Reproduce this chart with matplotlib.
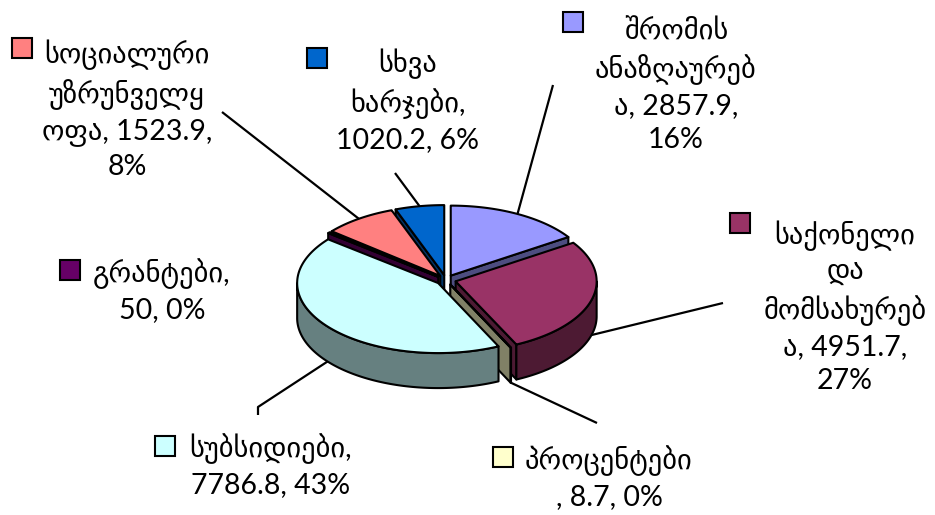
import matplotlib.pyplot as plt
import numpy as np
from matplotlib.patches import Polygon, Rectangle

# data (clockwise from 12 o'clock)
names = ['შრომის ანაზღაურება', 'საქონელი და მომსახურება', 'პროცენტები',
         'სუბსიდიები', 'გრანტები', 'სოციალური უზრუნველყოფა', 'სხვა ხარჯები']
values = [2857.9, 4951.7, 8.7, 7786.8, 50, 1523.9, 1020.2]
labels = ['შრომის\nანაზღაურებ\nა, 2857.9,\n16%',
          'საქონელი\nდა\nმომსახურებ\nა, 4951.7,\n27%',
          'პროცენტები\n, 8.7, 0%',
          'სუბსიდიები,\n7786.8, 43%',
          'გრანტები,\n50, 0%',
          'სოციალური\nუზრუნველყ\nოფა, 1523.9,\n8%',
          'სხვა\nხარჯები,\n1020.2, 6%']
colors = ['#9999FF', '#993366', '#FFFFCC', '#CCFFFF', '#660066', '#FF8080', '#0066CC']

# label layout (pixels): text block centre, legend key top-left
label_pos = [(676, 86), (845, 307), (609, 478), (271, 466), (162, 291), (127, 110), (408, 101)]
key_pos = [(563, 12), (730, 213), (493, 447), (155, 436), (60, 260), (12, 38), (307, 48)]
leader_end = [(553, 85), (723, 303), (597, 423), [(258, 407), (258, 415)], None,
              (222, 112), (395, 173)]

cx, cy = 446, 280
rx, ry = 141, 70
depth = 35
expl = 10

fig = plt.figure(figsize=(9.35, 5.15), dpi=100)
ax = fig.add_axes([0, 0, 1, 1])
ax.set_xlim(0, 935)
ax.set_ylim(515, 0)
ax.axis('off')

vals = np.array(values, dtype=float)
frac = vals / vals.sum()
cum = np.concatenate([[0], np.cumsum(frac)])
theta_start = np.deg2rad(90 - 360 * cum[:-1])
theta_end = np.deg2rad(90 - 360 * cum[1:])
mids = (theta_start + theta_end) / 2


def pt(ox, oy, t, dz=0):
    return (ox + rx * np.cos(t), oy - ry * np.sin(t) + dz)


def shade(c):
    rgb = np.array(plt.matplotlib.colors.to_rgb(c))
    return tuple(rgb * 0.5)


def origin(i):
    m = mids[i]
    return cx + expl * np.cos(m), cy - expl * ry / rx * np.sin(m)


# back-to-front: slices whose nearest point is furthest back go first
nearest = [np.sin(np.linspace(theta_end[i], theta_start[i], 400)).min() for i in range(len(values))]
order = np.argsort(-np.array(nearest), kind='stable')
kw = dict(edgecolor='black', linewidth=1.5, joinstyle='round')

for i in order:
    a1, a2 = theta_end[i], theta_start[i]
    ox, oy = origin(i)
    side = shade(colors[i])

    # radial faces
    for a, nrm in ((a1, a1 - np.pi / 2), (a2, a2 + np.pi / 2)):
        if np.sin(nrm) < 0:
            poly = [(ox, oy), pt(ox, oy, a), pt(ox, oy, a, dz=depth), (ox, oy + depth)]
            ax.add_patch(Polygon(poly, closed=True, facecolor=side, **kw))

    # outer wall (front half only)
    ts = np.linspace(a1, a2, 200)
    front = np.sin(ts) <= 0
    if front.any():
        idx = np.where(front)[0]
        runs = np.split(idx, np.where(np.diff(idx) > 1)[0] + 1)
        for r in runs:
            tr = ts[r]
            top = [pt(ox, oy, t) for t in tr]
            bot = [pt(ox, oy, t, dz=depth) for t in tr[::-1]]
            ax.add_patch(Polygon(top + bot, closed=True, facecolor=side, **kw))

    # top face
    poly = [(ox, oy)] + [pt(ox, oy, t) for t in ts]
    ax.add_patch(Polygon(poly, closed=True, facecolor=colors[i], **kw))

# leader lines
for i in range(len(values)):
    end = leader_end[i]
    if end is None:
        continue
    m = mids[i]
    ox, oy = origin(i)
    dz = depth if np.sin(m) < 0 else 0
    start = pt(ox, oy, m, dz=dz)
    pts = [start] + (end if isinstance(end, list) else [end])
    xs, ys = zip(*pts)
    ax.plot(xs, ys, color='black', linewidth=1.6, solid_capstyle='butt')

# labels with legend keys
for i in range(len(values)):
    x, y = label_pos[i]
    ax.text(x, y, labels[i], ha='center', va='center', multialignment='center',
            fontsize=20.5, linespacing=1.38, family=['Lato', 'DejaVu Sans'], color='black')
    kx, ky = key_pos[i]
    ax.add_patch(Rectangle((kx, ky), 20, 20, facecolor=colors[i], edgecolor='black',
                           linewidth=1.5))

fig.savefig('out.png', dpi=100)
